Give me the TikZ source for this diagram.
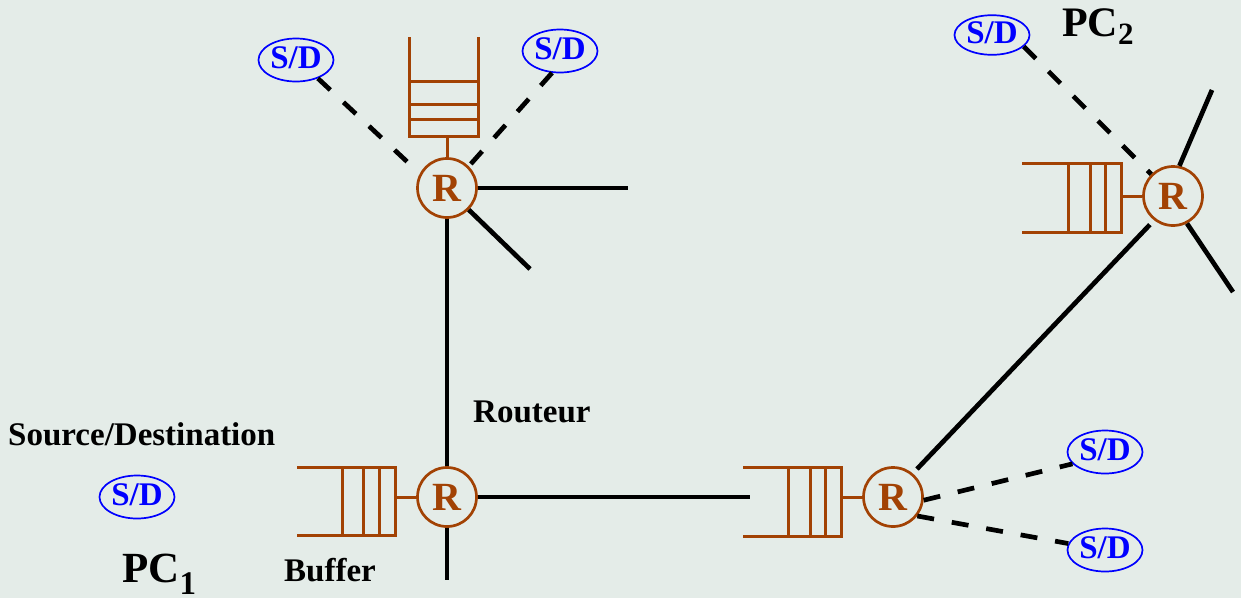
\documentclass[tikz,border=0pt]{standalone}
\usepackage{fontspec}
\setmainfont{Liberation Serif}
\usetikzlibrary{shapes.geometric}
\definecolor{bgc}{RGB}{228,236,232}
\definecolor{brn}{RGB}{162,66,4}
\begin{document}
\begin{tikzpicture}[x=1pt,y=-1pt,
  router/.style={circle,draw=brn,line width=2.7pt,minimum size=59pt,inner sep=0pt,
    text=brn,font=\fontsize{40}{40}\selectfont\bfseries},
  sd/.style={ellipse,draw=blue,line width=1.7pt,minimum width=75pt,minimum height=43pt,inner sep=0pt,
    text=blue,font=\fontsize{33}{33}\selectfont\bfseries,text height=22pt,text depth=6pt},
  link/.style={line width=4.7pt},
  dlink/.style={line width=4.7pt,dash pattern=on 17pt off 18pt},
  buf/.style={draw=brn,line width=3pt},
  lbl/.style={font=\fontsize{33}{33}\selectfont\bfseries,inner sep=0pt,anchor=base west}]
\useasboundingbox (0,0) rectangle (1241,598);
\fill[bgc] (0,0) rectangle (1241,598);

% routers
\node[router] (r1) at (447,188) {R};
\node[router] (r2) at (447,497) {R};
\node[router] (r3) at (893,497) {R};
\node[router] (r4) at (1173,196) {R};

% sources / destinations
\node[sd] (sd1) at (296,60) {S/D};
\node[sd] (sd2) at (560,51) {S/D};
\node[sd,minimum height=39pt] (sd3) at (992,35) {S/D};
\node[sd] (sd4) at (1105,452) {S/D};
\node[sd] (sd5) at (1105,550) {S/D};
\node[sd] (sd6) at (137,497) {S/D};

% buffers
\draw[buf] (409,37) -- (409,136) -- (478,136) -- (478,37);
\draw[buf] (409,81) -- (478,81) (409,104) -- (478,104) (409,119) -- (478,119);
\coordinate (b1) at (447,136);
\draw[buf] (b1) -- (r1);

\draw[buf] (297,467) -- (395,467) -- (395,535) -- (297,535);
\draw[buf] (342,467) -- (342,535) (363,467) -- (363,535) (379,467) -- (379,535);
\coordinate (b2) at (395,497);
\draw[buf] (b2) -- (r2);

\draw[buf] (743,467) -- (841,467) -- (841,536) -- (743,536);
\draw[buf] (788,467) -- (788,536) (810,467) -- (810,536) (825,467) -- (825,536);
\coordinate (b3) at (841,497);
\draw[buf] (b3) -- (r3);

\draw[buf] (1022,163) -- (1121,163) -- (1121,232) -- (1022,232);
\draw[buf] (1068,163) -- (1068,232) (1090,163) -- (1090,232) (1105,163) -- (1105,232);
\coordinate (b4) at (1121,196);
\draw[buf] (b4) -- (r4);

% solid links
\coordinate (e1) at (628,188);
\coordinate (e2) at (530,269);
\coordinate (e3) at (447,580);
\coordinate (e4) at (750,497);
\coordinate (e5) at (1212,90);
\coordinate (e6) at (1233,292);
\draw[link] (r1) -- (r2);
\draw[link] (r1.east) -- (e1);
\draw[link] (r1.-45) -- (e2);
\draw[link] (r2.south) -- (e3);
\draw[link] (r2.east) -- (e4);
\draw[link,shorten <=6pt,shorten >=6pt] (r3.50) -- (r4.232);
\draw[link] (r4.78) -- (e5);
\draw[link] (r4.-63) -- (e6);

% dashed links
\draw[dlink] (sd1.-40) -- (r1.152);
\draw[dlink] (sd2.-110) -- (r1.45);
\draw[dlink] (sd3.-20) -- (r4.135);
\draw[dlink] (r3.-6) -- (sd4.200);
\draw[dlink] (r3.-38) -- (sd5.170);

% labels
\node[lbl] (tsd) at (8,445) {Source/Destination};
\node[lbl] (trout) at (473,422) {Routeur};
\node[lbl] (tbuf) at (284,581) {Buffer};
\node[lbl,font=\fontsize{43}{43}\selectfont\bfseries] (pc1) at (122,582)
  {PC\raisebox{-12pt}{\fontsize{33}{33}\selectfont 1}};
\node[lbl,font=\fontsize{42}{42}\selectfont\bfseries] (pc2) at (1062,36)
  {PC\raisebox{-8pt}{\fontsize{31}{31}\selectfont 2}};
\end{tikzpicture}
\end{document}
